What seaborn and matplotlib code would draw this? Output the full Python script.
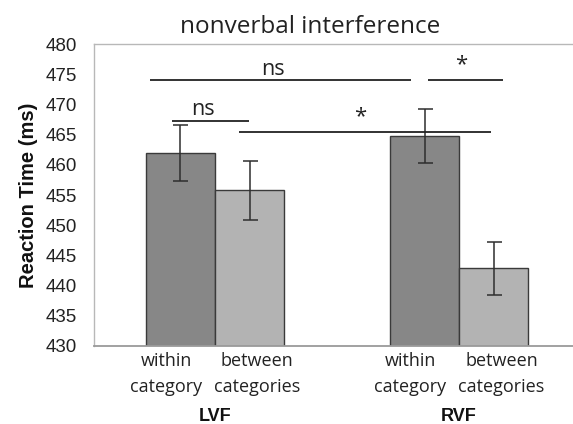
import matplotlib
matplotlib.use("Agg")
import matplotlib.pyplot as plt
import matplotlib.transforms as mtransforms
import seaborn as sns
import pandas as pd
import numpy as np

# ---- data ----
fields = ["LVF", "LVF", "RVF", "RVF"]
conditions = ["within\ncategory", "between\ncategories", "within\ncategory", "between\ncategories"]
rt_means = [462.0, 455.8, 464.8, 442.9]
rt_errors = [4.6, 4.9, 4.5, 4.4]
y_ticks = [430, 435, 440, 445, 450, 455, 460, 465, 470, 475, 480]
# significance lines: (start bar, offset, end bar, offset, line y, label)
sig_lines = [
    (0, -0.125, 2, -0.057, 474.0, "ns"),
    (2, 0.016, 3, 0.039, 474.0, "*"),
    (0, -0.035, 1, -0.002, 467.3, "ns"),
    (1, -0.043, 3, -0.010, 465.4, "*"),
]

df = pd.DataFrame({"field": fields, "condition": [c.replace("\n", " ") for c in conditions],
                   "rt": rt_means})

sns.set_theme(style="white")
plt.rcParams["font.family"] = ["Liberation Sans", "DejaVu Sans"]
soft = ["Open Sans", "DejaVu Sans"]

fig = plt.figure(figsize=(5.73, 4.24), dpi=100)
ax = fig.add_axes([0.164, 0.184, 0.836, 0.712])

palette = {"within category": "#878787", "between categories": "#b3b3b3"}
sns.barplot(data=df, x="field", y="rt", hue="condition", palette=palette,
            width=0.566, errorbar=None, edgecolor="#3a3a3a", linewidth=1.0,
            saturation=1, legend=False, ax=ax)

# bar centers, ordered like the data
patches = [p for p in ax.patches if p.get_width() > 0]
patches.sort(key=lambda p: p.get_x())
centers = [p.get_x() + p.get_width() / 2 for p in patches]
ordered = sorted(range(4), key=lambda i: (fields[i], 0 if conditions[i].startswith("within") else 1))
xc = [0] * 4
for k, i in enumerate(ordered):
    xc[i] = centers[k]

ax.errorbar(xc, rt_means, yerr=rt_errors, fmt="none", ecolor="#2e2e2e",
            elinewidth=1.1, capsize=5.4, capthick=1.1, zorder=5)

ax.set_ylim(430, 480)
ax.set_xlim(-0.496, 1.467)
ax.set_yticks(y_ticks)
ax.set_yticklabels([str(t) for t in y_ticks], fontsize=13.5, color="#222222")
ax.tick_params(axis="y", length=0, pad=12)
ax.set_xticks([])
ax.set_xlabel("")
ax.set_ylabel("Reaction Time (ms)", fontsize=14.5, fontweight="bold", color="#111111", labelpad=6)

for side in ["left", "top"]:
    ax.spines[side].set_visible(True)
    ax.spines[side].set_color("#b8b8b8")
    ax.spines[side].set_linewidth(1.0)
ax.spines["bottom"].set_color("#9a9a9a")
ax.spines["bottom"].set_linewidth(1.3)
ax.spines["right"].set_visible(False)

trans = mtransforms.blended_transform_factory(ax.transData, ax.transAxes)
# category labels (two lines each)
for i in range(4):
    shift = -0.058 if conditions[i].startswith("within") else 0.032
    for line, yb in zip(conditions[i].split("\n"), [-0.066, -0.152]):
        ax.text(xc[i] + shift, yb, line, transform=trans, ha="center", va="baseline",
                fontsize=13, family=soft, color="#222222")

# group labels
for g in ["LVF", "RVF"]:
    gx = np.mean([xc[i] for i in range(4) if fields[i] == g])
    ax.text(gx, -0.248, g, transform=trans, ha="center", va="baseline",
            fontsize=13, fontweight="bold", color="#111111")

# significance lines
for a, oa, b, ob, yv, lab in sig_lines:
    x0 = xc[a] + oa
    x1 = xc[b] + ob
    ax.plot([x0, x1], [yv, yv], color="#222222", lw=1.3, solid_capstyle="butt", zorder=6)
    if lab == "ns":
        ax.text((x0 + x1) / 2 - 0.03, yv + 0.9, lab, ha="center", va="baseline",
                fontsize=15.5, family=soft, color="#222222")
    else:
        ax.text((x0 + x1) / 2 - 0.02, yv + 1.6, lab, ha="center", va="baseline",
                fontsize=16, family=soft, color="#222222")

fig.text(0.541, 0.936, "nonverbal interference", ha="center", va="center",
         fontsize=17.5, family=soft, color="#222222")

fig.savefig("out.png", dpi=100)
